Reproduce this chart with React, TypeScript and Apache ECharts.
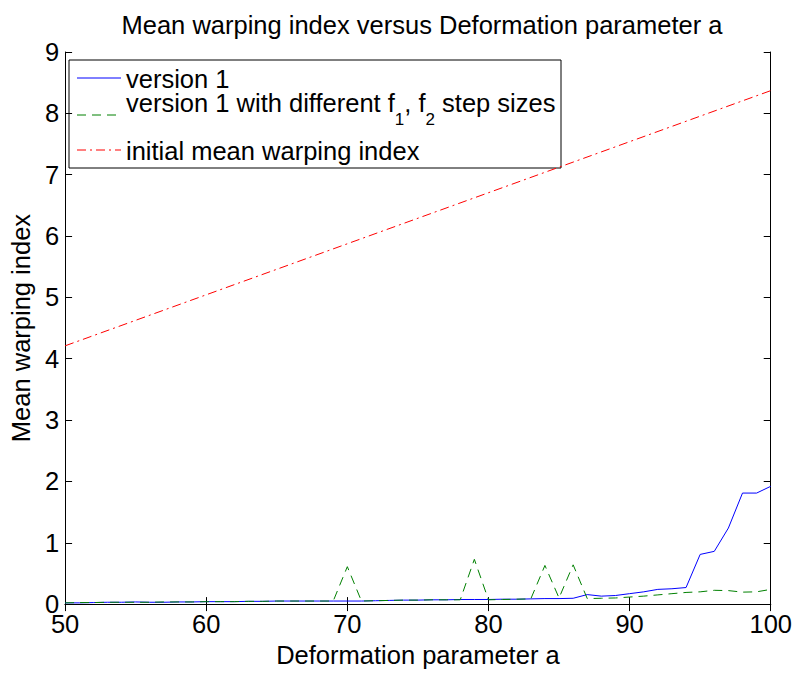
import React, { useEffect, useRef } from "react";
import * as echarts from "echarts";

const aValues = [
  50, 51, 52, 53, 54, 55, 56, 57, 58, 59,
  60, 61, 62, 63, 64, 65, 66, 67, 68, 69,
  70, 71, 72, 73, 74, 75, 76, 77, 78, 79,
  80, 81, 82, 83, 84, 85, 86, 87, 88, 89,
  90, 91, 92, 93, 94, 95, 96, 97, 98, 99,
  100,
];

const version1 = [
  0.02, 0.02, 0.025, 0.03, 0.03, 0.035, 0.03, 0.03, 0.035, 0.035,
  0.04, 0.04, 0.04, 0.045, 0.045, 0.05, 0.05, 0.05, 0.05, 0.05,
  0.05, 0.05, 0.055, 0.06, 0.065, 0.065, 0.07, 0.07, 0.075, 0.075,
  0.075, 0.08, 0.08, 0.085, 0.09, 0.09, 0.095, 0.155, 0.13, 0.14,
  0.17, 0.2, 0.24, 0.25, 0.27, 0.81, 0.86, 1.24, 1.81, 1.81,
  1.92,
];

const version1Steps = [
  0.02, 0.025, 0.025, 0.03, 0.03, 0.03, 0.03, 0.035, 0.035, 0.035,
  0.04, 0.04, 0.04, 0.045, 0.045, 0.05, 0.05, 0.05, 0.05, 0.05,
  0.61, 0.05, 0.055, 0.06, 0.065, 0.065, 0.07, 0.07, 0.07, 0.73,
  0.07, 0.075, 0.08, 0.085, 0.63, 0.1, 0.64, 0.09, 0.095, 0.1,
  0.115, 0.13, 0.15, 0.17, 0.19, 0.2, 0.225, 0.22, 0.195, 0.2,
  0.24,
];

const initialX = [50, 100];
const initialY = [4.21, 8.37];

const xTicks = { min: 50, max: 100, interval: 10 };
const yTicks = { min: 0, max: 9, interval: 1 };

const titleText = "Mean warping index versus Deformation parameter a";
const xName = "Deformation parameter a";
const yName = "Mean warping index";
const legendNames = ["version 1", "version 1 with different f1, f2 step sizes", "initial mean warping index"];

const FONT = "'Liberation Sans', Arial, Helvetica, sans-serif";
const FS = 25.5;

export default function App() {
  const ref = useRef<HTMLDivElement>(null);

  useEffect(() => {
    document.body.style.margin = "0";
    if (!ref.current) return;
    const chart = echarts.init(ref.current, undefined, { renderer: "svg" });

    const pair = (xs: number[], ys: number[]) => xs.map((x, i) => [x, ys[i]]);

    const axisCommon = {
      axisLine: { show: true, lineStyle: { color: "#000", width: 1 } },
      axisTick: { show: true, inside: true, length: 7, lineStyle: { color: "#000", width: 1 } },
      splitLine: { show: false },
    };

    const legendX = 69, legendY = 60, legendW = 492, legendH = 108;

    const option: any = {
      animation: false,
      backgroundColor: "#fff",
      textStyle: { fontFamily: FONT },
      title: {
        text: titleText,
        left: 417,
        textAlign: "center",
        top: 7,
        textStyle: { fontFamily: FONT, fontSize: FS, fontWeight: "normal", color: "#000" },
      },
      grid: { left: 62, right: 23, top: 52, bottom: 63, containLabel: false },
      xAxis: [
        {
          type: "value",
          ...xTicks,
          position: "bottom",
          name: xName,
          nameLocation: "middle",
          nameGap: 36,
          nameTextStyle: { fontFamily: FONT, fontSize: FS, color: "#000" },
          axisLabel: { show: true, margin: 7, fontFamily: FONT, fontSize: FS, color: "#000" },
          ...axisCommon,
        },
        {
          type: "value",
          ...xTicks,
          position: "top",
          axisLabel: { show: false },
          ...axisCommon,
        },
      ],
      yAxis: [
        {
          type: "value",
          ...yTicks,
          position: "left",
          name: yName,
          nameLocation: "middle",
          nameGap: 28,
          nameTextStyle: { fontFamily: FONT, fontSize: FS, color: "#000" },
          axisLabel: { show: true, margin: 6, fontFamily: FONT, fontSize: FS, color: "#000" },
          ...axisCommon,
        },
        {
          type: "value",
          ...yTicks,
          position: "right",
          axisLabel: { show: false },
          ...axisCommon,
        },
      ],
      series: [
        {
          name: legendNames[0],
          type: "line",
          xAxisIndex: 0,
          yAxisIndex: 0,
          data: pair(aValues, version1),
          showSymbol: false,
          symbol: "none",
          lineStyle: { color: "#0000ff", width: 1 },
          z: 3,
        },
        {
          name: legendNames[1],
          type: "line",
          xAxisIndex: 0,
          yAxisIndex: 0,
          data: pair(aValues, version1Steps),
          showSymbol: false,
          symbol: "none",
          lineStyle: { color: "#008000", width: 1, type: [9, 6] },
          z: 4,
        },
        {
          name: legendNames[2],
          type: "line",
          xAxisIndex: 0,
          yAxisIndex: 0,
          data: pair(initialX, initialY),
          showSymbol: false,
          symbol: "none",
          lineStyle: { color: "#ff0000", width: 1, type: [9, 4, 2, 4] },
          z: 2,
        },
      ],
      graphic: [
        {
          type: "group",
          z: 100,
          children: [
            {
              type: "rect",
              shape: { x: legendX, y: legendY, width: legendW, height: legendH },
              style: { fill: "#fff", stroke: "#000", lineWidth: 1 },
            },
            {
              type: "line",
              shape: { x1: 77, y1: 78, x2: 121, y2: 78 },
              style: { stroke: "#0000ff", lineWidth: 1 },
            },
            {
              type: "line",
              shape: { x1: 77, y1: 115, x2: 121, y2: 115 },
              style: { stroke: "#008000", lineWidth: 1, lineDash: [9, 6] },
            },
            {
              type: "line",
              shape: { x1: 77, y1: 150, x2: 121, y2: 150 },
              style: { stroke: "#ff0000", lineWidth: 1, lineDash: [9, 4, 2, 4] },
            },
            {
              type: "text",
              x: 126,
              y: 79,
              style: {
                text: "version 1",
                fontFamily: FONT,
                fontSize: FS,
                fill: "#000",
                verticalAlign: "middle",
              },
            },
            {
              type: "text",
              x: 126,
              y: 90,
              style: {
                text: "{a|version 1 with different f}{s|1}{a|, f}{s|2}{a| step sizes}",
                fill: "#000",
                verticalAlign: "top",
                rich: {
                  a: { fontFamily: FONT, fontSize: FS, lineHeight: 26, verticalAlign: "top", fill: "#000" },
                  s: { fontFamily: FONT, fontSize: 17, lineHeight: 38, verticalAlign: "bottom", fill: "#000" },
                },
              },
            },
            {
              type: "text",
              x: 126,
              y: 151,
              style: {
                text: "initial mean warping index",
                fontFamily: FONT,
                fontSize: FS,
                fill: "#000",
                verticalAlign: "middle",
              },
            },
          ],
        },
      ],
    };

    chart.setOption(option);
    return () => {
      chart.dispose();
    };
  }, []);

  return <div ref={ref} style={{ width: 795, height: 673 }} />;
}
